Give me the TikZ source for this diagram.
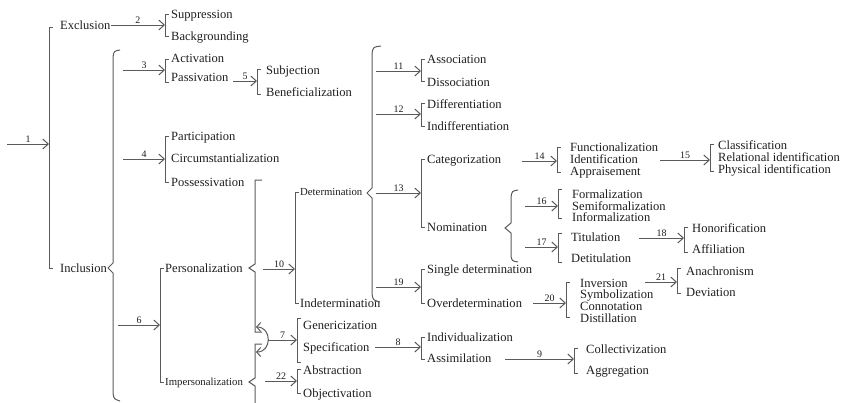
\documentclass[tikz,border=0pt]{standalone}
\usepackage{fontspec}
\setmainfont{Liberation Serif}
\usetikzlibrary{arrows.meta}
\definecolor{ink}{RGB}{30,30,30}
\definecolor{rule}{RGB}{90,90,90}

\begin{document}
\begin{tikzpicture}[x=1bp,y=-1bp,
  line/.style={draw=rule, line width=1bp},
  feed/.style={line, -{Straight Barb[length=5.5bp,width=10bp]}},
  num/.style={font=\fontsize{10}{10}\selectfont, text=ink, inner sep=1bp, above, midway},
  term/.style={anchor=base west, yshift=-4bp, inner sep=0pt, text=ink, font=\fontsize{12.6}{14}\selectfont},
  smallterm/.style={term, yshift=0.5bp, font=\fontsize{10.8}{12}\selectfont}]
\useasboundingbox (0,0) rectangle (842,402);

\coordinate (s1) at (7,144); \coordinate (b1) at (49,144);
\draw [feed] (s1) -- node[num] {1} (b1);
\draw [line] (53,27) -- (49,27) -- (49,268) -- (53,268);
\node [term] (excl) at (60,25) {Exclusion};
\node [term] (incl) at (60,268) {Inclusion};

\coordinate (b2) at (165,25);
\draw [feed] (excl.east |- b2) -- node[num] {2} (b2);
\draw [line] (169,14) -- (165,14) -- (165,36) -- (169,36);
\foreach \n/\y/\t in {supp/14/Suppression, backg/36/Backgrounding}
  \node [term] (\n) at (171,\y) {\t};

\draw [line] (120,50) .. controls (114,51) .. (113,57) -- (113,263) -- (108,268) -- (113,273) -- (113,393) .. controls (114,399) .. (120,401);

\coordinate (s3) at (123,70); \coordinate (b3) at (165,70);
\draw [feed] (s3) -- node[num] {3} (b3);
\draw [line] (169,59) -- (165,59) -- (165,82) -- (169,82);
\foreach \n/\y/\t in {activ/58/Activation, passiv/77/Passivation}
  \node [term] (\n) at (171,\y) {\t};

\coordinate (s5) at (233,81); \coordinate (b5) at (257,81);
\draw [feed] (s5) -- node[num] {5} (b5);
\draw [line] (261,69) -- (257,69) -- (257,94) -- (261,94);
\foreach \n/\y/\t in {subj/70/Subjection, benef/92/Beneficialization}
  \node [term] (\n) at (266,\y) {\t};

\coordinate (s4) at (123,159); \coordinate (b4) at (165,159);
\draw [feed] (s4) -- node[num] {4} (b4);
\draw [line] (169,136) -- (165,136) -- (165,182) -- (169,182);
\foreach \n/\y/\t in {partic/136/Participation, circ/158/Circumstantialization, poss/182/Possessivation}
  \node [term] (\n) at (171,\y) {\t};

\coordinate (s6) at (118,325); \coordinate (b6) at (160,325);
\draw [feed] (s6) -- node[num] {6} (b6);
\draw [line] (164,268) -- (160,268) -- (160,382) -- (164,382);
\node [term] (pers) at (165,268) {Personalization};
\node [smallterm] (impers) at (165,382) {Impersonalization};

\draw [line] (262,180) -- (255,180) -- (255,264) -- (249,268) -- (255,272) -- (255,332) -- (262,332);
\draw [line] (262,344) -- (255,344) -- (255,378) -- (249,382) -- (255,386) -- (255,403);

\coordinate (j7a) at (256,327); \coordinate (j7b) at (256,352);
\draw [line, {Straight Barb[length=4bp,width=9bp]}-{Straight Barb[length=4bp,width=9bp]}] (j7a) .. controls (272,327) and (272,352) .. (j7b);
\coordinate (s7) at (268,340); \coordinate (b7) at (297,340);
\draw [feed] (s7) -- node[num] {7} (b7);
\draw [line] (301,318) -- (297,318) -- (297,362) -- (301,362);
\foreach \n/\y/\t in {gener/325/Genericization, spec/347/Specification}
  \node [term] (\n) at (303,\y) {\t};

\coordinate (s10) at (263,269); \coordinate (b10) at (295,269);
\draw [feed] (s10) -- node[num] {10} (b10);
\draw [line] (299,192) -- (295,192) -- (295,303) -- (299,303);
\node [smallterm] (determ) at (300,192) {Determination};
\node [term] (indeterm) at (300,303) {Indetermination};

\coordinate (s22) at (265,381); \coordinate (b22) at (297,381);
\draw [feed] (s22) -- node[num] {22} (b22);
\draw [line] (301,369) -- (297,369) -- (297,393) -- (301,393);
\foreach \n/\y/\t in {abstr/370/Abstraction, objec/393/Objectivation}
  \node [term] (\n) at (303,\y) {\t};

\coordinate (s8) at (375,347); \coordinate (b8) at (421,347);
\draw [feed] (s8) -- node[num] {8} (b8);
\draw [line] (425,337) -- (421,337) -- (421,359) -- (425,359);
\foreach \n/\y/\t in {indiv/337/Individualization, assim/358/Assimilation}
  \node [term] (\n) at (427,\y) {\t};

\coordinate (s9) at (505,359); \coordinate (b9) at (574,359);
\draw [feed] (s9) -- node[num] {9} (b9);
\draw [line] (578,348) -- (574,348) -- (574,373) -- (578,373);
\foreach \n/\y/\t in {collec/349/Collectivization, aggreg/370/Aggregation}
  \node [term] (\n) at (586,\y) {\t};

\draw [line] (381,46) .. controls (373,47) .. (372,54) -- (372,188) -- (367,193) -- (372,198) -- (372,294) .. controls (373,300) .. (380,302);

\coordinate (s11) at (376,71); \coordinate (b11) at (421,71);
\draw [feed] (s11) -- node[num] {11} (b11);
\draw [line] (425,59) -- (421,59) -- (421,81) -- (425,81);
\foreach \n/\y/\t in {assoc/59/Association, dissoc/82/Dissociation}
  \node [term] (\n) at (427,\y) {\t};

\coordinate (s12) at (376,114); \coordinate (b12) at (421,114);
\draw [feed] (s12) -- node[num] {12} (b12);
\draw [line] (425,103) -- (421,103) -- (421,126) -- (425,126);
\foreach \n/\y/\t in {diff/104/Differentiation, indiff/126/Indifferentiation}
  \node [term] (\n) at (427,\y) {\t};

\coordinate (s13) at (376,193); \coordinate (b13) at (421,193);
\draw [feed] (s13) -- node[num] {13} (b13);
\draw [line] (425,159) -- (421,159) -- (421,227) -- (425,227);
\foreach \n/\y/\t in {categ/159/Categorization, nomin/227/Nomination}
  \node [term] (\n) at (427,\y) {\t};

\coordinate (s19) at (376,287); \coordinate (b19) at (421,287);
\draw [feed] (s19) -- node[num] {19} (b19);
\draw [line] (425,269) -- (421,269) -- (421,303) -- (425,303);
\foreach \n/\y/\t in {single/269/Single determination, overd/303/Overdetermination}
  \node [term] (\n) at (427,\y) {\t};

\coordinate (s14) at (522,161); \coordinate (b14) at (557,161);
\draw [feed] (s14) -- node[num] {14} (b14);
\draw [line] (561,147) -- (557,147) -- (557,172) -- (561,172);
\foreach \n/\y/\t in {funct/147/Functionalization, ident/159/Identification, apprais/171/Appraisement}
  \node [term] (\n) at (570,\y) {\t};

\coordinate (s15) at (660,160); \coordinate (b15) at (710,160);
\draw [feed] (s15) -- node[num] {15} (b15);
\draw [line] (714,144) -- (710,144) -- (710,171) -- (714,171);
\foreach \n/\y/\t in {classif/145/Classification, relid/157/Relational identification, physid/169/Physical identification}
  \node [term] (\n) at (718,\y) {\t};

\draw [line] (518,190) .. controls (512,191) .. (511,197) -- (511,223) -- (505,228) -- (511,233) -- (511,256) .. controls (512,261) .. (518,262);

\coordinate (s16) at (525,206); \coordinate (b16) at (558,206);
\draw [feed] (s16) -- node[num] {16} (b16);
\draw [line] (562,189) -- (558,189) -- (558,218) -- (562,218);
\foreach \n/\y/\t in {formal/194/Formalization, semif/206/Semiformalization, inform/217/Informalization}
  \node [term] (\n) at (572,\y) {\t};

\coordinate (s17) at (525,247); \coordinate (b17) at (558,247);
\draw [feed] (s17) -- node[num] {17} (b17);
\draw [line] (562,233) -- (558,233) -- (558,262) -- (562,262);
\foreach \n/\y/\t in {titul/237/Titulation, detit/258/Detitulation}
  \node [term] (\n) at (571,\y) {\t};

\coordinate (s18) at (639,238); \coordinate (b18) at (684,238);
\draw [feed] (s18) -- node[num] {18} (b18);
\draw [line] (688,227) -- (684,227) -- (684,252) -- (688,252);
\foreach \n/\y/\t in {honor/228/Honorification, affil/249/Affiliation}
  \node [term] (\n) at (692,\y) {\t};

\coordinate (s20) at (533,303); \coordinate (b20) at (566,303);
\draw [feed] (s20) -- node[num] {20} (b20);
\draw [line] (570,282) -- (566,282) -- (566,317) -- (570,317);
\foreach \n/\y/\t in {invers/283/Inversion, symbol/294/Symbolization, connot/306/Connotation, distil/318/Distillation}
  \node [term] (\n) at (580,\y) {\t};

\coordinate (s21) at (645,282); \coordinate (b21) at (677,282);
\draw [feed] (s21) -- node[num] {21} (b21);
\draw [line] (681,268) -- (677,268) -- (677,293) -- (681,293);
\foreach \n/\y/\t in {anachr/271/Anachronism, deviat/292/Deviation}
  \node [term] (\n) at (686,\y) {\t};

\end{tikzpicture}
\end{document}
